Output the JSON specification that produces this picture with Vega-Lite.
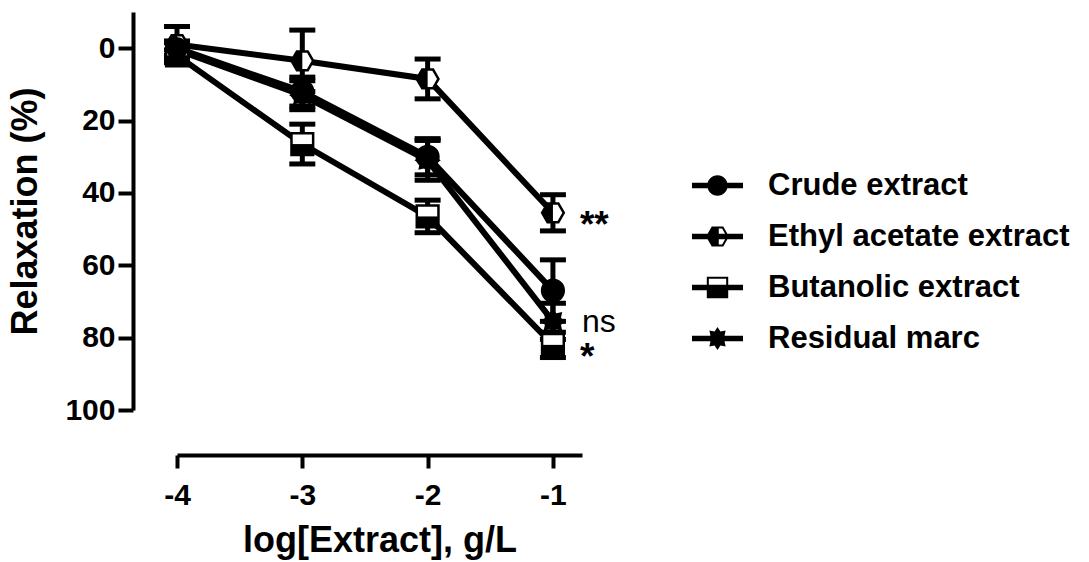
{
  "$schema": "https://vega.github.io/schema/vega-lite/v6.json",
  "width": 405,
  "height": 398,
  "autosize": "none",
  "padding": {"left": 177, "top": 12, "right": 507, "bottom": 152},
  "background": "white",
  "config": {
    "view": {"stroke": null},
    "font": "Liberation Sans",
    "axis": {
      "grid": false,
      "domainColor": "black",
      "tickColor": "black",
      "labelColor": "black",
      "titleColor": "black",
      "domainWidth": 4,
      "tickWidth": 4,
      "labelFont": "Liberation Sans",
      "labelFontWeight": "bold",
      "labelFontSize": 30,
      "titleFont": "Liberation Sans",
      "titleFontWeight": "bold",
      "titleFontSize": 36,
      "labelFlush": false,
      "labelOverlap": false
    }
  },
  "data": {
    "values": [
      {"series": "Crude extract", "x": -4, "y": 0, "err": 2},
      {"series": "Crude extract", "x": -3, "y": 12, "err": 4},
      {"series": "Crude extract", "x": -2, "y": 30, "err": 5},
      {"series": "Crude extract", "x": -1, "y": 67, "err": 8.5},
      {"series": "Ethyl acetate extract", "x": -4, "y": -1, "err": 5},
      {"series": "Ethyl acetate extract", "x": -3, "y": 3.5, "err": 8.5},
      {"series": "Ethyl acetate extract", "x": -2, "y": 8.5, "err": 5.5},
      {"series": "Ethyl acetate extract", "x": -1, "y": 45.5, "err": 5},
      {"series": "Butanolic extract", "x": -4, "y": 2, "err": 1.5},
      {"series": "Butanolic extract", "x": -3, "y": 26.5, "err": 5.5},
      {"series": "Butanolic extract", "x": -2, "y": 46.5, "err": 4.5},
      {"series": "Butanolic extract", "x": -1, "y": 82, "err": 3.5},
      {"series": "Residual marc", "x": -4, "y": 0.5, "err": 2},
      {"series": "Residual marc", "x": -3, "y": 13, "err": 4},
      {"series": "Residual marc", "x": -2, "y": 31, "err": 5.5},
      {"series": "Residual marc", "x": -1, "y": 75.5, "err": 5}
    ]
  },
  "encoding": {
    "x": {
      "field": "x",
      "type": "quantitative",
      "scale": {"domain": [-4, -0.768], "nice": false, "zero": false},
      "axis": {
        "title": "log[Extract], g/L",
        "orient": "bottom",
        "offset": 45,
        "tickSize": 13,
        "labelPadding": 12,
        "titlePadding": 13,
        "values": [-4, -3, -2, -1],
        "labelExpr": "'' + datum.value"
      }
    },
    "y": {
      "field": "y",
      "type": "quantitative",
      "scale": {"domain": [-10, 100], "nice": false, "zero": false, "reverse": true},
      "axis": {
        "title": "Relaxation (%)",
        "orient": "left",
        "offset": 44,
        "tickSize": 15,
        "labelPadding": 3,
        "titlePadding": 20,
        "values": [0, 20, 40, 60, 80, 100]
      }
    }
  },
  "layer": [
    {
      "mark": {
        "type": "errorbar",
        "ticks": {"color": "black", "opacity": 1},
        "rule": {"color": "black", "opacity": 1},
        "size": 26,
        "thickness": 5,
        "color": "black",
        "opacity": 1
      },
      "encoding": {
        "yError": {"field": "err"},
        "detail": {"field": "series", "type": "nominal"}
      }
    },
    {
      "mark": {"type": "line", "color": "black", "strokeWidth": 6},
      "encoding": {
        "detail": {"field": "series", "type": "nominal"},
        "order": {"field": "x", "type": "quantitative"}
      }
    },
    {
      "mark": {"type": "point", "filled": true, "fill": "white", "stroke": "black", "strokeWidth": 2.5, "size": 470, "opacity": 1},
      "encoding": {
        "shape": {
          "field": "series",
          "type": "nominal",
          "scale": {
            "domain": ["Crude extract", "Ethyl acetate extract", "Butanolic extract", "Residual marc"],
            "range": [
              "circle",
              "M-1,0L-0.5,-0.866L0.5,-0.866L1,0L0.5,0.866L-0.5,0.866Z",
              "square",
              "M1,0L0.61,0.253L0.707,0.707L0.253,0.61L0,1L-0.253,0.61L-0.707,0.707L-0.61,0.253L-1,0L-0.61,-0.253L-0.707,-0.707L-0.253,-0.61L0,-1L0.253,-0.61L0.707,-0.707L0.61,-0.253Z"
            ]
          },
          "legend": null
        }
      }
    },
    {
      "mark": {"type": "point", "filled": true, "fill": "black", "strokeWidth": 0, "size": 470, "opacity": 1},
      "encoding": {
        "shape": {
          "field": "series",
          "type": "nominal",
          "scale": {
            "domain": ["Crude extract", "Ethyl acetate extract", "Butanolic extract", "Residual marc"],
            "range": [
              "circle",
              "M-1,0L-0.5,-0.866L0,-0.866L0,0.866L-0.5,0.866Z",
              "M-1,0H1V1H-1Z",
              "M1,0L0.61,0.253L0.707,0.707L0.253,0.61L0,1L-0.253,0.61L-0.707,0.707L-0.61,0.253L-1,0L-0.61,-0.253L-0.707,-0.707L-0.253,-0.61L0,-1L0.253,-0.61L0.707,-0.707L0.61,-0.253Z"
            ]
          },
          "legend": null
        }
      }
    },
    {
      "mark": {"type": "point", "filled": true, "color": "black", "opacity": 0},
      "encoding": {
        "shape": {
          "field": "series",
          "type": "nominal",
          "scale": {
            "domain": ["Crude extract", "Ethyl acetate extract", "Butanolic extract", "Residual marc"],
            "range": [
              "M-1,-0.11H1V0.11H-1Z M0.4,0A0.4,0.4,0,1,1,-0.4,0A0.4,0.4,0,1,1,0.4,0Z",
              "M-1,-0.11H1V0.11H-1Z M-0.45,0L-0.225,-0.39L0.225,-0.39L0.45,0L0.225,0.39L-0.225,0.39Z M0.05,-0.31V0.31H0.18L0.36,0L0.18,-0.31Z",
              "M-1,-0.11H1V0.11H-1Z M-0.42,-0.42H0.42V0.42H-0.42Z M-0.34,-0.34V-0.11H0.34V-0.34Z",
              "M-1,-0.11H1V0.11H-1Z M0.45,0L0.277,0.115L0.318,0.318L0.115,0.277L0,0.45L-0.115,0.277L-0.318,0.318L-0.277,0.115L-0.45,0L-0.277,-0.115L-0.318,-0.318L-0.115,-0.277L0,-0.45L0.115,-0.277L0.318,-0.318L0.277,-0.115Z"
            ]
          },
          "legend": {
            "title": null,
            "orient": "none",
            "legendX": 515,
            "legendY": 148,
            "padding": 0,
            "rowPadding": 10,
            "symbolSize": 2601,
            "symbolFillColor": "black",
            "symbolStrokeColor": "black",
            "symbolStrokeWidth": 0,
            "symbolOpacity": 1,
            "labelFont": "Liberation Sans",
            "labelFontWeight": "bold",
            "labelFontSize": 31,
            "labelColor": "black",
            "labelOffset": 25,
            "labelLimit": 500
          }
        }
      }
    },
    {
      "data": {"values": [
        {"label": "**", "x": -1, "y": 45.5},
        {"label": "*", "x": -1, "y": 82}
      ]},
      "mark": {"type": "text", "align": "left", "baseline": "middle", "dx": 27, "dy": 13, "font": "Liberation Sans", "fontWeight": "bold", "fontSize": 37, "color": "black"},
      "encoding": {"text": {"field": "label"}}
    },
    {
      "data": {"values": [
        {"label": "ns", "x": -1, "y": 75.5}
      ]},
      "mark": {"type": "text", "align": "left", "baseline": "middle", "dx": 29, "dy": 1, "font": "Liberation Sans", "fontWeight": "normal", "fontSize": 32, "color": "black"},
      "encoding": {"text": {"field": "label"}}
    }
  ],
  "resolve": {"scale": {"shape": "independent"}, "legend": {"shape": "independent"}}
}
